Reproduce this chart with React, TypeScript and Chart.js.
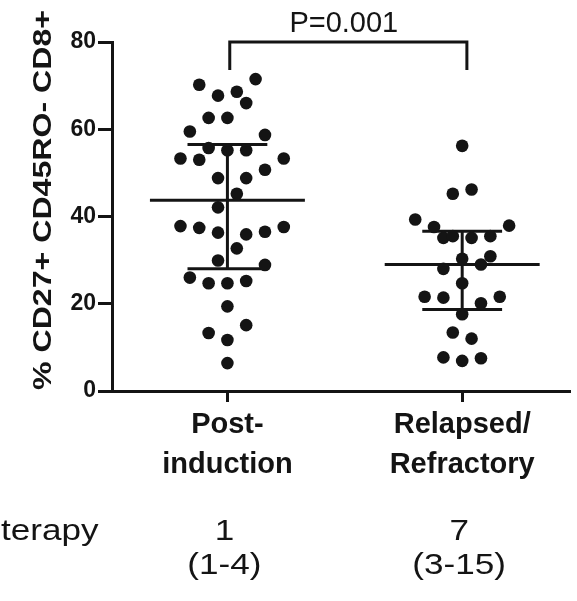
import React, { useEffect, useRef } from "react";
import { Chart, registerables } from "chart.js";

Chart.register(...registerables);

// ---------- data ----------
const categories = [["Post-", "induction"], ["Relapsed/", "Refractory"]];

const postInduction = [
  70.2, 71.5, 67.7, 68.6, 66.0, 62.6, 62.6, 59.5, 58.7, 55.7,
  55.2, 55.2, 53.3, 53.0, 53.3, 50.7, 48.8, 48.8, 45.2, 42.1,
  37.8, 37.4, 36.3, 35.9, 36.5, 37.6, 32.7, 29.9, 28.9, 26.0,
  24.7, 24.7, 25.2, 19.4, 15.1, 13.3, 11.7, 6.4,
];
// beeswarm slot of each point (horizontal spread within the column)
const postInductionSlots = [
  -3, 3, -1, 1, 2, -2, 0, -4, 4, -2,
  0, 2, -5, -3, 6, 4, -1, 2, 1, -1,
  -5, -3, -1, 2, 4, 6, 1, -1, 4, -4,
  -2, 0, 2, 0, 2, -2, 0, 0,
];

const relapsed = [
  56.2, 45.2, 46.2, 39.3, 37.6, 37.9, 35.1, 35.5, 35.1, 35.5,
  30.3, 30.9, 28.0, 29.0, 24.7, 21.6, 21.4, 21.6, 20.1, 17.6,
  13.4, 12.0, 7.7, 6.9, 7.5,
];
const relapsedSlots = [
  0, -1, 1, -5, -3, 5, -2, -1, 1, 3,
  0, 3, -2, 2, 0, -4, -2, 4, 2, 0,
  -1, 1, -2, 0, 2,
];

const medians = [43.7, 29.0];
const lowerQuartiles = [28.0, 18.7];
const upperQuartiles = [56.5, 36.6];

const yTicks = [0, 20, 40, 60, 80];
const yTitle = "% CD27+ CD45RO- CD8+";
const pValueLabel = "P=0.001";
const bracketDrop = 73.6;

const therapyLabel = "terapy";
const therapyMedian = ["1", "7"];
const therapyRange = ["(1-4)", "(3-15)"];

// ---------- styling ----------
const INK = "#141414";
const FONT = '"Liberation Sans", Arial, Helvetica, sans-serif';
const SLOT = 0.04;

const textPlugin = {
  id: "annotText",
  afterDraw(chart: any) {
    const { ctx, scales } = chart;
    const x = scales.x;
    const y = scales.y;
    ctx.save();
    ctx.fillStyle = INK;
    ctx.textBaseline = "alphabetic";

    // p-value above bracket
    ctx.font = `29px ${FONT}`;
    ctx.textAlign = "center";
    const midX = (x.getPixelForValue(0) + x.getPixelForValue(1)) / 2;
    ctx.fillText(pValueLabel, midX - 1, y.getPixelForValue(80) - 10);

    // y-axis title (rotated)
    ctx.save();
    ctx.translate(51, 200);
    ctx.rotate(-Math.PI / 2);
    ctx.font = `bold 26px ${FONT}`;
    const tw = ctx.measureText(yTitle).width;
    ctx.scale(380 / tw, 1);
    ctx.textAlign = "center";
    ctx.fillText(yTitle, 0, 0);
    ctx.restore();

    // rows under the axis
    ctx.font = `30px ${FONT}`;
    const SX = 1.17;
    const draw = (t: string, px: number, py: number, align: CanvasTextAlign) => {
      ctx.save();
      ctx.translate(px, py);
      ctx.scale(SX, 1);
      ctx.textAlign = align;
      ctx.fillText(t, 0, 0);
      ctx.restore();
    };
    draw(therapyLabel, 1, 540, "left");
    therapyMedian.forEach((t, i) => draw(t, x.getPixelForValue(i) - 3, 540, "center"));
    therapyRange.forEach((t, i) => draw(t, x.getPixelForValue(i) - 3, 574, "center"));
    ctx.restore();
  },
};

export default function App() {
  const canvasRef = useRef<HTMLCanvasElement>(null);

  useEffect(() => {
    if (!canvasRef.current) return;
    const groups = [postInduction, relapsed];
    const slots = [postInductionSlots, relapsedSlots];

    const pointSets = groups.map((vals, g) => ({
      label: categories[g].join(" "),
      data: vals.map((v, i) => ({ x: g + slots[g][i] * SLOT, y: v })),
      showLine: false,
      pointRadius: 6.3,
      pointHoverRadius: 6.3,
      pointBackgroundColor: INK,
      pointBorderColor: INK,
      pointBorderWidth: 0,
    }));

    const lineStyle = {
      showLine: true,
      borderColor: INK,
      borderWidth: 3,
      pointRadius: 0,
      pointHoverRadius: 0,
      fill: false,
      clip: false as any,
      borderCapStyle: "butt" as const,
      borderJoinStyle: "miter" as const,
      tension: 0,
    };

    const summarySets: any[] = [];
    medians.forEach((m, g) => {
      summarySets.push({ ...lineStyle, label: "median", data: [{ x: g - 0.33, y: m }, { x: g + 0.33, y: m }] });
      summarySets.push({ ...lineStyle, label: "q3", data: [{ x: g - 0.17, y: upperQuartiles[g] }, { x: g + 0.17, y: upperQuartiles[g] }] });
      summarySets.push({ ...lineStyle, label: "q1", data: [{ x: g - 0.17, y: lowerQuartiles[g] }, { x: g + 0.17, y: lowerQuartiles[g] }] });
      summarySets.push({ ...lineStyle, label: "iqr", data: [{ x: g, y: lowerQuartiles[g] }, { x: g, y: upperQuartiles[g] }] });
    });

    const bracket = {
      ...lineStyle,
      label: "bracket",
      data: [
        { x: 0.01, y: bracketDrop },
        { x: 0.01, y: 80 },
        { x: 1.02, y: 80 },
        { x: 1.02, y: bracketDrop },
      ],
    };

    const chart = new Chart(canvasRef.current, {
      type: "scatter",
      data: { datasets: [...pointSets, ...summarySets, bracket] as any },
      options: {
        animation: false,
        responsive: true,
        maintainAspectRatio: false,
        events: [],
        layout: { padding: { top: 42, left: 0, right: 0, bottom: 0 } },
        plugins: { legend: { display: false }, tooltip: { enabled: false } },
        scales: {
          x: {
            type: "linear",
            min: -0.4916,
            max: 1.4622,
            afterBuildTicks: (s: any) => {
              s.ticks = categories.map((_, i) => ({ value: i }));
            },
            afterFit: (s: any) => {
              s.height = 210;
            },
            ticks: {
              autoSkip: false,
              maxRotation: 0,
              minRotation: 0,
              padding: 3,
              color: INK,
              font: { family: FONT, size: 29, weight: "bold", lineHeight: 1.38 },
              callback: (v: any) => categories[Math.round(Number(v))] as any,
            },
            grid: {
              display: true,
              drawOnChartArea: false,
              drawTicks: true,
              tickLength: 11,
              tickWidth: 3,
              tickColor: INK,
            },
            border: { display: true, width: 3, color: INK },
          },
          y: {
            type: "linear",
            min: 0,
            max: 80,
            afterBuildTicks: (s: any) => {
              s.ticks = yTicks.map((v) => ({ value: v }));
            },
            afterFit: (s: any) => {
              s.width = 112;
            },
            ticks: {
              padding: 2,
              color: INK,
              font: { family: FONT, size: 23, weight: "bold" },
            },
            grid: {
              display: true,
              drawOnChartArea: false,
              drawTicks: true,
              tickLength: 14,
              tickWidth: 3,
              tickColor: INK,
            },
            border: { display: true, width: 3, color: INK },
          },
        },
      } as any,
      plugins: [textPlugin],
    });

    return () => chart.destroy();
  }, []);

  return (
    <div style={{ position: "fixed", left: 0, top: 0, width: 577, height: 601, background: "#fff" }}>
      <canvas ref={canvasRef} />
    </div>
  );
}
